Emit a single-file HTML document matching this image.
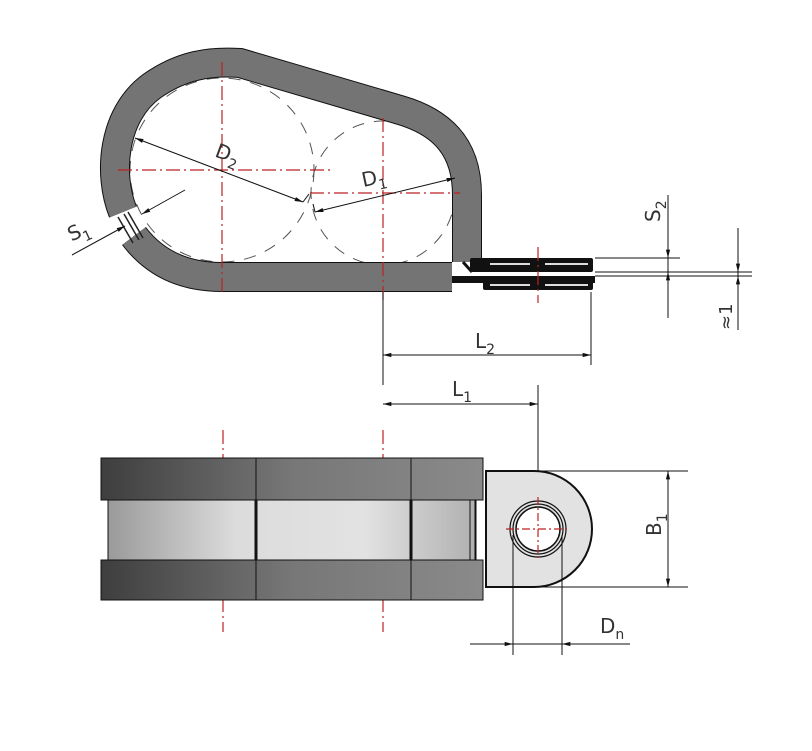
<!DOCTYPE html>
<html><head><meta charset="utf-8"><style>
html,body{margin:0;padding:0;background:#fff;width:812px;height:751px;overflow:hidden}
svg{display:block}
text{font-family:"DejaVu Sans","Liberation Sans",sans-serif;fill:#333}
</style></head><body>
<svg width="812" height="751" viewBox="0 0 812 751" xmlns="http://www.w3.org/2000/svg">
<defs>
<marker id="a" viewBox="0 0 10 6" refX="10" refY="3" markerWidth="10" markerHeight="5" orient="auto-start-reverse" markerUnits="userSpaceOnUse"><path d="M0,0.5 L10,3 L0,5.5z" fill="#111"/></marker>
<linearGradient id="g1" x1="0" x2="1"><stop offset="0" stop-color="#3e3e3e"/><stop offset="0.5" stop-color="#777"/><stop offset="1" stop-color="#8a8a8a"/></linearGradient>
<linearGradient id="g2" x1="0" x2="1"><stop offset="0" stop-color="#9a9a9a"/><stop offset="0.35" stop-color="#dcdcdc"/><stop offset="0.7" stop-color="#e2e2e2"/><stop offset="1" stop-color="#b0b0b0"/></linearGradient>
</defs>

<!-- dashed circles -->
<circle cx="222" cy="170" r="92" fill="none" stroke="#555" stroke-width="1" stroke-dasharray="12,10"/>
<circle cx="383" cy="193" r="72" fill="none" stroke="#555" stroke-width="1" stroke-dasharray="12,10"/>

<!-- band top view -->
<g fill="none" stroke-linecap="butt">
<path d="M134 236 Q165 277 222 277 L452 277" stroke="#111" stroke-width="30"/>
<path d="M134 236 Q165 277 222 277 L452 277" stroke="#747474" stroke-width="28"/>
<path d="M123 212 C108 175 112 115 152 86 C182 65 210 61 240 63 L400 110 C445 123 467 150 467 195 L467 262" stroke="#111" stroke-width="30"/>
<path d="M123 212 C108 175 112 115 152 86 C182 65 210 61 240 63 L400 110 C445 123 467 150 467 195 L467 262" stroke="#747474" stroke-width="28"/>
</g>
<!-- S1 gap lines -->
<path d="M118 217 L133 243 M124 214 L139 240 M128 212 L143 238" stroke="#222" stroke-width="1.5"/>

<!-- tabs -->
<rect x="452" y="276" width="143" height="7" fill="#111"/>
<rect x="470" y="258" width="123" height="14" rx="2" fill="#111"/>
<rect x="483" y="276" width="110" height="14" rx="2" fill="#111"/>
<path d="M463 262 L472 272" stroke="#111" stroke-width="3"/>
<path d="M490 264 H530 M545 264 H588 M490 285 H530 M545 285 H588" stroke="#ddd" stroke-width="2"/>

<!-- centre lines -->
<g stroke="#b22" stroke-width="1.2" stroke-dasharray="14,4,2,4" fill="none">
<path d="M222 62 V292"/><path d="M118 170 H330"/><path d="M383 118 V300"/><path d="M310 193 H460"/><path d="M538 247 V303"/>
<path d="M223 430 V632"/><path d="M383 430 V632"/>
</g>

<!-- dims top -->
<g stroke="#111" stroke-width="1" fill="none">
<path d="M135 138 L303 202" marker-start="url(#a)" marker-end="url(#a)"/>
<path d="M303 202 L309 194"/>
<path d="M455 178 L315 212" marker-start="url(#a)" marker-end="url(#a)"/>
<path d="M315 212 L313 204"/>
<path d="M72 255 L125 226" marker-end="url(#a)"/>
<path d="M185 190 L142 214" marker-end="url(#a)"/>
<path d="M383 292 V365 M591 292 V365"/>
<path d="M383 355 H591" marker-start="url(#a)" marker-end="url(#a)"/>
<path d="M595 258 H680 M595 272 H752 M595 276 H752"/>
<path d="M668 195 V318"/>
<path d="M668 232 V258" marker-end="url(#a)"/><path d="M668 298 V272" marker-end="url(#a)"/>
<path d="M738 228 V330"/>
<path d="M738 250 V272" marker-end="url(#a)"/><path d="M738 298 V276" marker-end="url(#a)"/>
<path d="M383 385 V300 M538 385 V480"/>
<path d="M383 404 H538" marker-start="url(#a)" marker-end="url(#a)"/>
</g>
<text x="215" y="160" font-size="20" transform="rotate(20 225 155)">D<tspan font-size="14" dy="6">2</tspan></text>
<text x="362" y="185" font-size="20" transform="rotate(-12 372 180)">D<tspan font-size="14" dy="6">1</tspan></text>
<text x="68" y="238" font-size="20" transform="rotate(-25 78 232)">S<tspan font-size="14" dy="6">1</tspan></text>
<text x="475" y="348" font-size="20">L<tspan font-size="14" dy="6">2</tspan></text>
<text x="452" y="396" font-size="20">L<tspan font-size="14" dy="6">1</tspan></text>
<text x="660" y="222" font-size="20" transform="rotate(-90 660 222)">S<tspan font-size="14" dy="6">2</tspan></text>
<text x="732" y="330" font-size="18" transform="rotate(-90 732 330)">≈1</text>

<!-- bottom view -->
<rect x="101" y="458" width="382" height="42" fill="url(#g1)" stroke="#111"/>
<rect x="101" y="560" width="382" height="40" fill="url(#g1)" stroke="#111"/>
<rect x="108" y="500" width="367" height="60" fill="url(#g2)" stroke="#111"/>
<path d="M256 458 V600 M411 458 V600" stroke="#111" stroke-width="1"/>
<path d="M256 500 V560 M411 500 V560" stroke="#111" stroke-width="3"/>
<path d="M470 500 V560 M476 500 V560" stroke="#111" stroke-width="1"/>
<path d="M486 471 H534 A58 58 0 0 1 534 587 H486 Z" fill="#e2e2e2" stroke="#111" stroke-width="2"/>
<circle cx="538" cy="529" r="28" fill="none" stroke="#111" stroke-width="1.2"/>
<circle cx="538" cy="529" r="25" fill="none" stroke="#111" stroke-width="1.2"/>
<circle cx="538" cy="529" r="22" fill="#fff" stroke="#111" stroke-width="1.5"/>
<g stroke="#b22" stroke-width="1.2" stroke-dasharray="8,3,2,3"><path d="M506 529 H570 M538 497 V561"/></g>
<g stroke="#111" stroke-width="1" fill="none">
<path d="M538 471 H688 M538 587 H688"/>
<path d="M668 471 V587" marker-start="url(#a)" marker-end="url(#a)"/>
<path d="M513 535 V655 M562 535 V655"/>
<path d="M470 644 H630"/>
<path d="M490 644 H513" marker-end="url(#a)"/><path d="M585 644 H562" marker-end="url(#a)"/>
</g>
<text x="660" y="545" font-size="20" transform="rotate(-90 656 540)">B<tspan font-size="14" dy="6">1</tspan></text>
<text x="600" y="633" font-size="20">D<tspan font-size="14" dy="6">n</tspan></text>
</svg>
</body></html>
